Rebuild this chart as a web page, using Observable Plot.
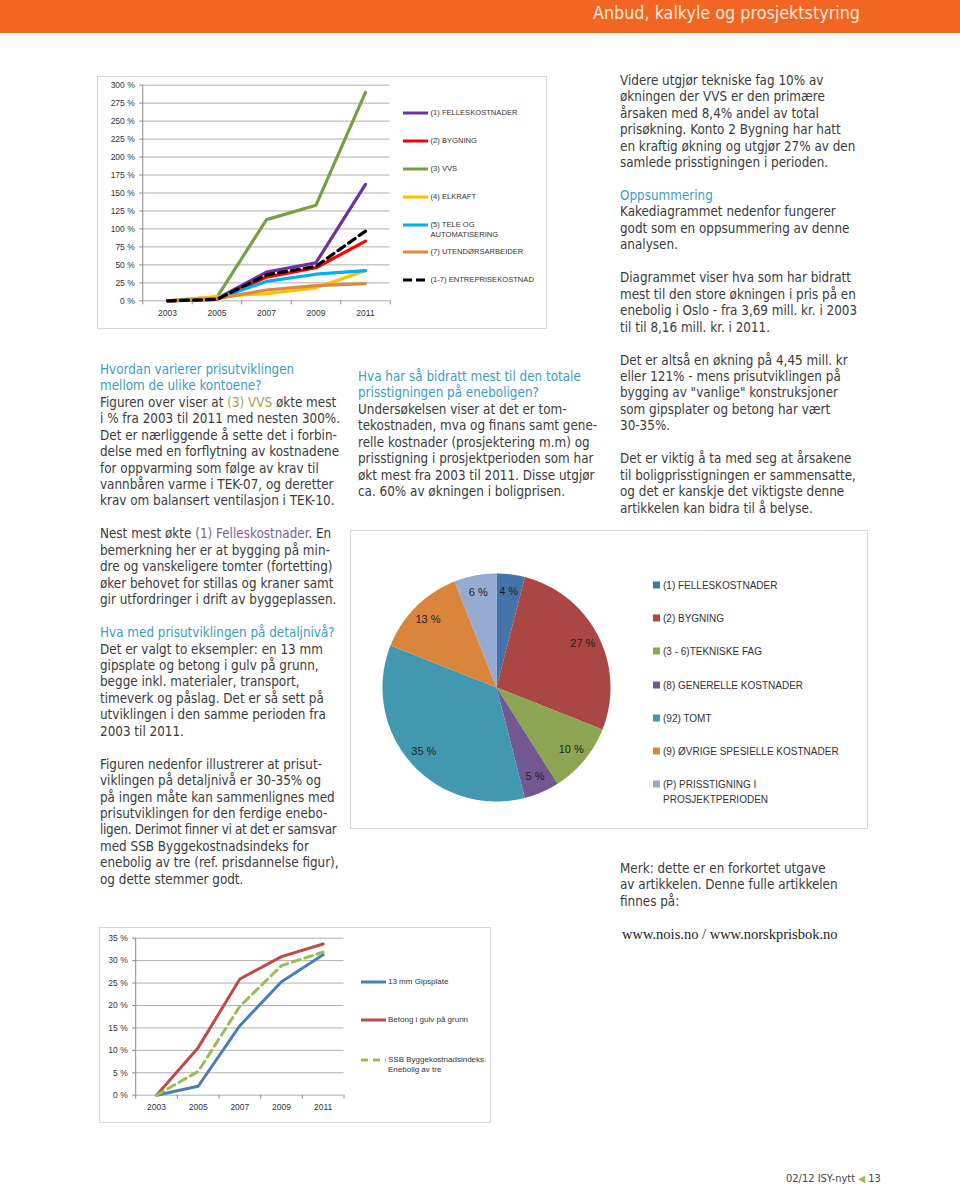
<!DOCTYPE html>
<html><head><meta charset="utf-8">
<script src="https://cdn.jsdelivr.net/npm/d3@7"></script>
<script src="https://cdn.jsdelivr.net/npm/@observablehq/plot@0.6"></script>
<style>
body{margin:0;background:#fff;}
#page{position:relative;width:960px;height:1187px;overflow:hidden;background:#fff;font-family:"DejaVu Sans Condensed","DejaVu Sans",sans-serif;color:#3a3a3a;}
.txt{position:absolute;font-size:13.35px;line-height:16.45px;white-space:nowrap;}
.h{color:#3d9cc3;}
.box{position:absolute;border:1px solid #d6d6d6;box-sizing:border-box;}
.leg{position:absolute;font-family:"Liberation Sans",Arial,sans-serif;color:#333;white-space:nowrap;transform:translateY(-50%);}
.sw{position:absolute;transform:translateY(-50%);}
.chart{position:absolute;}
.tight{letter-spacing:-0.3px;}
</style></head>
<body><div id="page">
<div style="position:absolute;left:0;top:0;width:960px;height:33px;background:#f26522;"></div>
<div style="position:absolute;right:100px;top:3px;font-size:17.8px;color:#fde8d8;line-height:20px;">Anbud, kalkyle og prosjektstyring</div>

<div class="box" style="left:97px;top:76px;width:450px;height:253px;"></div>
<div class="box" style="left:350px;top:530px;width:518px;height:299px;"></div>
<div class="box" style="left:99px;top:927px;width:392px;height:196px;"></div>

<div class="txt" style="left:100px;top:361.8px;"><span class="h">Hvordan varierer prisutviklingen<br>mellom de ulike kontoene?</span><br>Figuren over viser at <span style="color:#a3a43d">(3) VVS</span> økte mest<br>i % fra 2003 til 2011 med nesten 300%.<br>Det er nærliggende å sette det i forbin-<br>delse med en forflytning av kostnadene<br>for oppvarming som følge av krav til<br>vannbåren varme i TEK-07, og deretter<br>krav om balansert ventilasjon i TEK-10.<br>&nbsp;<br>Nest mest økte <span style="color:#7b5ea0">(1) Felleskostnader</span>. En<br>bemerkning her er at bygging på min-<br>dre og vanskeligere tomter (fortetting)<br>øker behovet for stillas og kraner samt<br>gir utfordringer i drift av byggeplassen.<br>&nbsp;<br><span class="h">Hva med prisutviklingen på detaljnivå?</span><br>Det er valgt to eksempler: en 13 mm<br>gipsplate og betong i gulv på grunn,<br>begge inkl. materialer, transport,<br>timeverk og påslag. Det er så sett på<br>utviklingen i den samme perioden fra<br>2003 til 2011.<br>&nbsp;<br>Figuren nedenfor illustrerer at prisut-<br>viklingen på detaljnivå er 30-35% og<br>på ingen måte kan sammenlignes med<br>prisutviklingen for den ferdige enebo-<br><span class="tight">ligen. Derimot finner vi at det er samsvar</span><br>med SSB Byggekostnadsindeks for<br>enebolig av tre (ref. prisdannelse figur),<br>og dette stemmer godt.</div>

<div class="txt" style="left:358px;top:368.8px;"><span class="h">Hva har så bidratt mest til den totale<br>prisstigningen på eneboligen?</span><br>Undersøkelsen viser at det er tom-<br>tekostnaden, mva og finans samt gene-<br>relle kostnader (prosjektering m.m) og<br>prisstigning i prosjektperioden som har<br>økt mest fra 2003 til 2011. Disse utgjør<br>ca. 60% av økningen i boligprisen.</div>

<div class="txt" style="left:620px;top:72.8px;">Videre utgjør tekniske fag 10% av<br>økningen der VVS er den primære<br>årsaken med 8,4% andel av total<br>prisøkning. Konto 2 Bygning har hatt<br>en kraftig økning og utgjør 27% av den<br>samlede prisstigningen i perioden.<br>&nbsp;<br><span class="h">Oppsummering</span><br>Kakediagrammet nedenfor fungerer<br>godt som en oppsummering av denne<br>analysen.<br>&nbsp;<br>Diagrammet viser hva som har bidratt<br>mest til den store økningen i pris på en<br>enebolig i Oslo - fra 3,69 mill. kr. i 2003<br>til til 8,16 mill. kr. i 2011.<br>&nbsp;<br>Det er altså en økning på 4,45 mill. kr<br>eller 121% - mens prisutviklingen på<br>bygging av "vanlige" konstruksjoner<br>som gipsplater og betong har vært<br>30-35%.<br>&nbsp;<br>Det er viktig å ta med seg at årsakene<br>til boligprisstigningen er sammensatte,<br>og det er kanskje det viktigste denne<br>artikkelen kan bidra til å belyse.</div>

<div class="txt" style="left:620px;top:860.8px;">Merk: dette er en forkortet utgave<br>av artikkelen. Denne fulle artikkelen<br>finnes på:</div>
<div style="position:absolute;left:622px;top:926px;font-family:'Liberation Serif',serif;font-size:14.5px;color:#222;white-space:nowrap;">www.nois.no / www.norskprisbok.no</div>

<div style="position:absolute;left:786px;top:1172px;font-size:11px;color:#444;white-space:nowrap;">02/12 ISY-nytt <span style="color:#8dc63f;font-size:10px;">◀</span> 13</div>

<div id="top" class="chart" style="left:97px;top:76px;"></div>
<div id="pie" class="chart" style="left:376px;top:567px;"></div>
<div id="bottom" class="chart" style="left:99px;top:927px;"></div>
</div>
<script>
// ---------- data ----------
const years = [2003, 2005, 2007, 2009, 2011];

// Top chart: price development per account, % change since 2003
const topNames = ["(1) FELLESKOSTNADER", "(2) BYGNING", "(3) VVS", "(4) ELKRAFT", "(5) TELE OG\nAUTOMATISERING", "(7) UTENDØRSARBEIDER", "(1-7) ENTREPRISEKOSTNAD"];
const felles     = [0, 3, 40, 53, 162];
const bygning    = [0, 2, 33, 46, 83];
const vvs        = [0, 5, 113, 133, 290];
const elkraft    = [0, 6, 10, 18, 42];
const tele       = [0, 3, 27, 37, 42];
const utendors   = [0, 3, 15, 21, 24];
const entreprise = [0, 2, 36, 48, 97];
const topColors  = ["#7030a0", "#ff0000", "#77a043", "#ffc000", "#00b0f0", "#d98a3e", "#000000"];
const topTicks   = [0, 25, 50, 75, 100, 125, 150, 175, 200, 225, 250, 275, 300];

// Pie chart: share of total price increase
const pieNames  = ["(1) FELLESKOSTNADER", "(2) BYGNING", "(3 - 6)TEKNISKE FAG", "(8) GENERELLE KOSTNADER", "(92) TOMT", "(9) ØVRIGE SPESIELLE KOSTNADER", "(P) PRISSTIGNING I\nPROSJEKTPERIODEN"];
const pieValues = [4, 27, 10, 5, 35, 13, 6];
const pieColors = ["#4672aa", "#aa4644", "#8ba552", "#715890", "#4198b0", "#db843c", "#95abd0"];

// Bottom chart: detail level
const bottomNames = ["13 mm Gipsplate", "Betong i gulv på grunn", "SSB Byggekostnadsindeks.\nEnebolig av tre"];
const gips   = [0, 2, 15.5, 25.3, 31.3];
const betong = [0, 10.6, 25.9, 30.9, 33.7];
const ssb    = [0, 5.3, 19.8, 28.9, 31.9];
const bottomColors = ["#4a7ebb", "#be4b48", "#9bbb59"];
const bottomTicks  = [0, 5, 10, 15, 20, 25, 30, 35];

// ---------- helpers ----------
const page = document.getElementById("page");
function long(names, arrays) {
  return names.flatMap((n, s) => years.map((y, i) => ({series: n, year: y, value: arrays[s][i]})));
}
const bounds = [2002, 2004, 2006, 2008, 2010, 2012];
const tickFont = {fontFamily: "Liberation Sans, Arial, sans-serif", fontSize: "8.5px", color: "#333", background: "transparent", overflow: "visible"};

// ---------- top chart ----------
const topData = long(topNames, [felles, bygning, vvs, elkraft, tele, utendors, entreprise]);
const topSvg = Plot.plot({
  width: 300, height: 252,
  marginLeft: 45.25, marginRight: 7.25, marginTop: 8.7, marginBottom: 27.7,
  style: tickFont,
  x: {domain: [2002, 2012]},
  y: {domain: [0, 300]},
  color: {domain: topNames, range: topColors},
  marks: [
    Plot.gridY(topTicks, {stroke: "#9a9a9a", strokeOpacity: 1, strokeWidth: 0.8}),
    Plot.ruleX([2002], {stroke: "#8a8a8a"}),
    Plot.axisY(topTicks, {tickFormat: d => d + " %", tickSize: 3, tickPadding: 5, stroke: "#8a8a8a", label: null}),
    Plot.axisX(bounds, {tickFormat: () => "", tickSize: 4, stroke: "#8a8a8a", label: null}),
    Plot.axisX(years, {tickFormat: d => String(d), tickSize: 0, tickPadding: 9, label: null}),
    Plot.line(topData.filter(d => d.series !== topNames[6]), {x: "year", y: "value", z: "series", stroke: "series", strokeWidth: 3.2}),
    Plot.line(topData.filter(d => d.series === topNames[6]), {x: "year", y: "value", stroke: "series", strokeWidth: 3.2, strokeDasharray: "8,5"})
  ]
});
document.getElementById("top").appendChild(topSvg);

function lineSwatch(x, y, color, dashed, w) {
  const ns = "http://www.w3.org/2000/svg";
  const svg = document.createElementNS(ns, "svg");
  svg.setAttribute("width", w); svg.setAttribute("height", 4);
  svg.setAttribute("class", "sw");
  svg.style.left = x + "px"; svg.style.top = y + "px";
  const l = document.createElementNS(ns, "line");
  l.setAttribute("x1", 0); l.setAttribute("x2", w); l.setAttribute("y1", 2); l.setAttribute("y2", 2);
  l.setAttribute("stroke", color); l.setAttribute("stroke-width", 3);
  if (dashed) l.setAttribute("stroke-dasharray", dashed);
  svg.appendChild(l);
  page.appendChild(svg);
}
function legText(x, y, text, size, lh) {
  const d = document.createElement("div");
  d.className = "leg";
  d.style.left = x + "px";
  d.style.fontSize = size + "px";
  d.style.lineHeight = lh + "px";
  const lines = text.split("\n");
  d.innerHTML = lines.join("<br>");
  if (lines.length > 1) {
    d.style.transform = "none";
    d.style.top = (y - lh / 2) + "px";
  } else d.style.top = y + "px";
  page.appendChild(d);
}
const topLegY = [112.7, 141, 169, 197.3, 225, 252, 280];
topNames.forEach((n, i) => {
  lineSwatch(403, topLegY[i], topColors[i], i === 6 ? "9,4" : null, 25);
  legText(430.5, topLegY[i], n, 7.6, 9.6);
});

// ---------- pie chart ----------
const arcs = d3.pie().sort(null).value(d => d)(pieValues);
const piePts = arcs.flatMap((a, i) => {
  const n = Math.max(4, Math.ceil((a.endAngle - a.startAngle) / 0.01));
  const pts = [{cat: pieNames[i], x: 0, y: 0}];
  for (let k = 0; k <= n; k++) {
    const t = a.startAngle + (a.endAngle - a.startAngle) * k / n;
    pts.push({cat: pieNames[i], x: Math.sin(t), y: Math.cos(t)});
  }
  return pts;
});
const pieLabels = arcs.map((a, i) => {
  const m = (a.startAngle + a.endAngle) / 2;
  return {x: 0.85 * Math.sin(m), y: 0.85 * Math.cos(m), text: pieValues[i] + " %"};
});
const pieSvg = Plot.plot({
  width: 240, height: 240, margin: 6,
  style: {background: "transparent", overflow: "visible"},
  x: {domain: [-1, 1], axis: null},
  y: {domain: [-1, 1], axis: null},
  color: {type: "ordinal", domain: pieNames, range: pieColors},
  marks: [
    Plot.line(piePts, {x: "x", y: "y", z: "cat", fill: "cat", stroke: "none", curve: "linear"}),
    Plot.text(pieLabels, {x: "x", y: "y", text: "text", fill: "#1e1e1e", fontSize: 11, fontFamily: "Liberation Sans, Arial, sans-serif"})
  ]
});
document.getElementById("pie").appendChild(pieSvg);

const pieLegY = [585, 618, 651, 684.5, 718, 751, 784];
pieNames.forEach((n, i) => {
  const s = document.createElement("div");
  s.className = "sw";
  Object.assign(s.style, {left: "653px", top: pieLegY[i] + "px", width: "7px", height: "7px", background: pieColors[i]});
  page.appendChild(s);
  legText(663, pieLegY[i], n, 10, 15);
});

// ---------- bottom chart ----------
const bottomData = long(bottomNames, [gips, betong, ssb]);
const bottomSvg = Plot.plot({
  width: 250, height: 195,
  marginLeft: 36.2, marginRight: 5.5, marginTop: 10.7, marginBottom: 27.3,
  style: tickFont,
  x: {domain: [2002, 2012]},
  y: {domain: [0, 35]},
  color: {domain: bottomNames, range: bottomColors},
  marks: [
    Plot.gridY(bottomTicks, {stroke: "#9a9a9a", strokeOpacity: 1, strokeWidth: 0.8}),
    Plot.ruleX([2002], {stroke: "#8a8a8a"}),
    Plot.axisY(bottomTicks, {tickFormat: d => d + " %", tickSize: 3, tickPadding: 5, stroke: "#8a8a8a", label: null}),
    Plot.axisX(bounds, {tickFormat: () => "", tickSize: 4, stroke: "#8a8a8a", label: null}),
    Plot.axisX(years, {tickFormat: d => String(d), tickSize: 0, tickPadding: 9, label: null}),
    Plot.line(bottomData.filter(d => d.series !== bottomNames[2]), {x: "year", y: "value", z: "series", stroke: "series", strokeWidth: 3}),
    Plot.line(bottomData.filter(d => d.series === bottomNames[2]), {x: "year", y: "value", stroke: "series", strokeWidth: 3, strokeDasharray: "8,5"})
  ]
});
document.getElementById("bottom").appendChild(bottomSvg);

const botLegY = [981.7, 1020, 1060];
bottomNames.forEach((n, i) => {
  lineSwatch(361, botLegY[i], bottomColors[i], i === 2 ? "7,5" : null, 25);
  legText(388, botLegY[i], n, 8, 10.5);
});
</script>
</body></html>
